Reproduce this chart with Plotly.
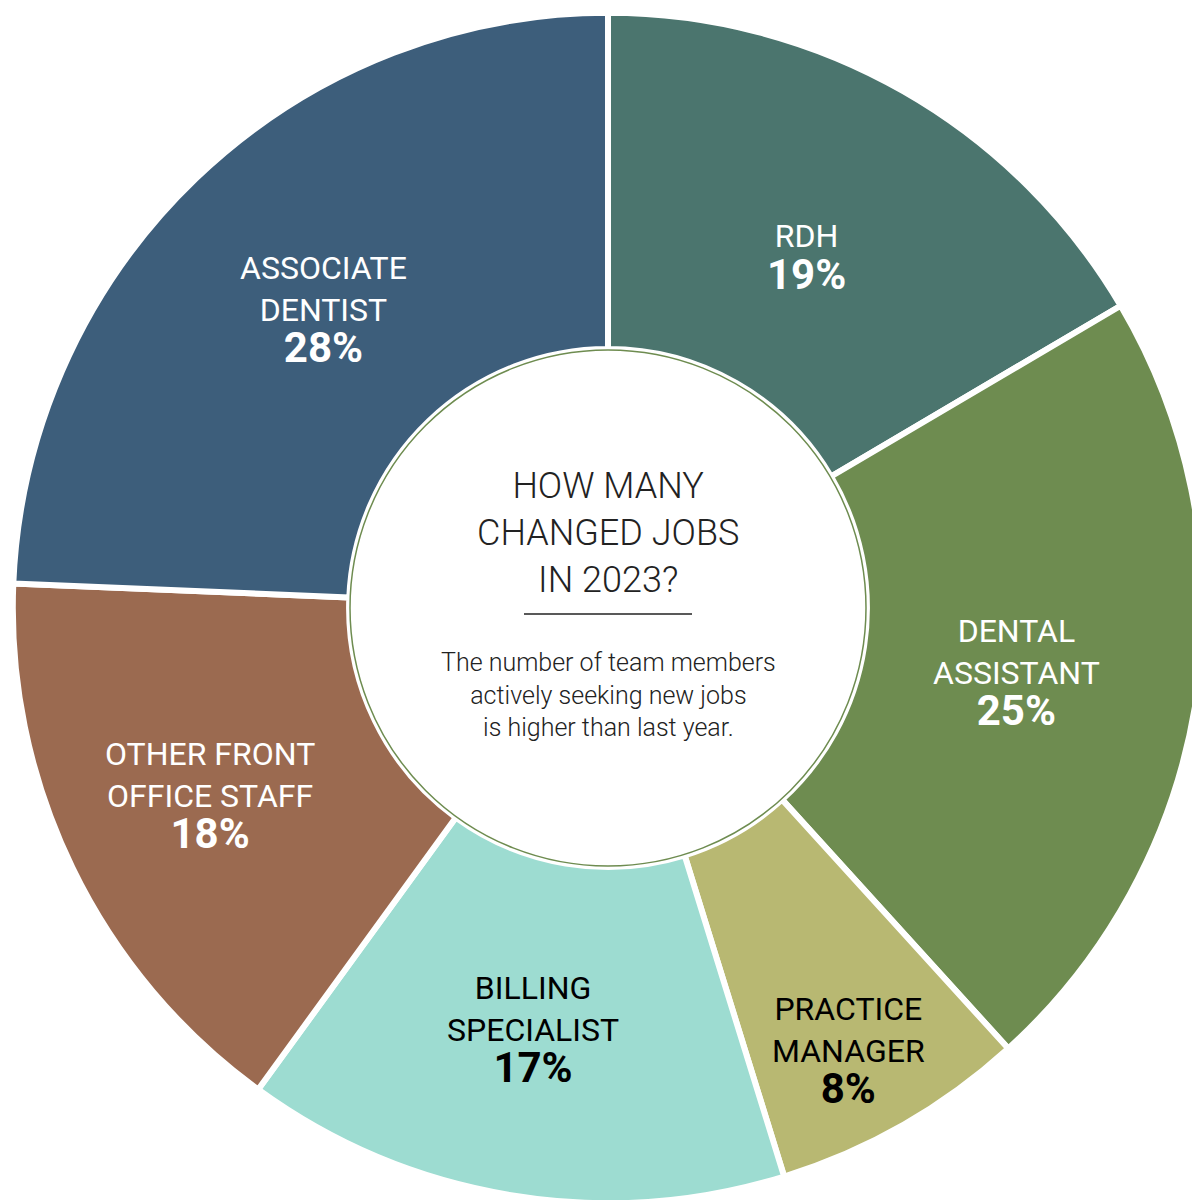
import plotly.graph_objects as go

categories = ["RDH", "DENTAL<br>ASSISTANT", "PRACTICE<br>MANAGER", "BILLING<br>SPECIALIST", "OTHER FRONT<br>OFFICE STAFF", "ASSOCIATE<br>DENTIST"]
values = [19, 25, 8, 17, 18, 28]
colors = ["#4b756e", "#6e8c50", "#b8b872", "#9ddcd1", "#9b6a50", "#3d5e7b"]
text_colors = ["white", "white", "black", "black", "white", "white"]
label_pos = [(798, 250), (1008, 665), (840, 1043), (525, 1022), (202, 788), (315, 303)]

fig = go.Figure(go.Pie(
    values=values, labels=categories, sort=False, direction="clockwise", rotation=0,
    hole=0.435, marker=dict(colors=colors, line=dict(color="white", width=6)),
    textinfo="none", hoverinfo="label+percent", showlegend=False,
    domain=dict(x=[0.004, 0.996], y=[0.004, 0.996]),
))

ann = []
for c, v, tc, (x, y) in zip(categories, values, text_colors, label_pos):
    ann.append(dict(x=x / 1200, y=1 - y / 1200, xref="paper", yref="paper", showarrow=False,
                    xanchor="center", yanchor="middle",
                    text=f"{c}<br><b><span style='font-size:42px'>{v}%</span></b>",
                    font=dict(family="Roboto", size=32, color=tc), align="center"))
ann.append(dict(x=0.5, y=1 - 525 / 1200, xref="paper", yref="paper", showarrow=False,
                xanchor="center", yanchor="middle",
                text="HOW MANY<br>CHANGED JOBS<br>IN 2023?", align="center",
                font=dict(family="Roboto Light, Roboto", size=36, color="#222")))
ann.append(dict(x=0.5, y=1 - 687 / 1200, xref="paper", yref="paper", showarrow=False,
                xanchor="center", yanchor="middle",
                text="The number of team members<br>actively seeking new jobs<br>is higher than last year.",
                align="center", font=dict(family="Roboto Light, Roboto", size=25, color="#222")))

fig.update_layout(
    width=1200, height=1200, margin=dict(l=0, r=0, t=0, b=0),
    paper_bgcolor="white", plot_bgcolor="white", annotations=ann,
    shapes=[
        dict(type="circle", xref="paper", yref="paper", x0=342/1200, x1=858/1200,
             y0=1-858/1200, y1=1-342/1200, line=dict(color="#6e8c50", width=1.5)),
        dict(type="line", xref="paper", yref="paper", x0=516/1200, x1=684/1200,
             y0=1-606/1200, y1=1-606/1200, line=dict(color="#222", width=1.5)),
    ],
)
fig.write_html("out.html")
